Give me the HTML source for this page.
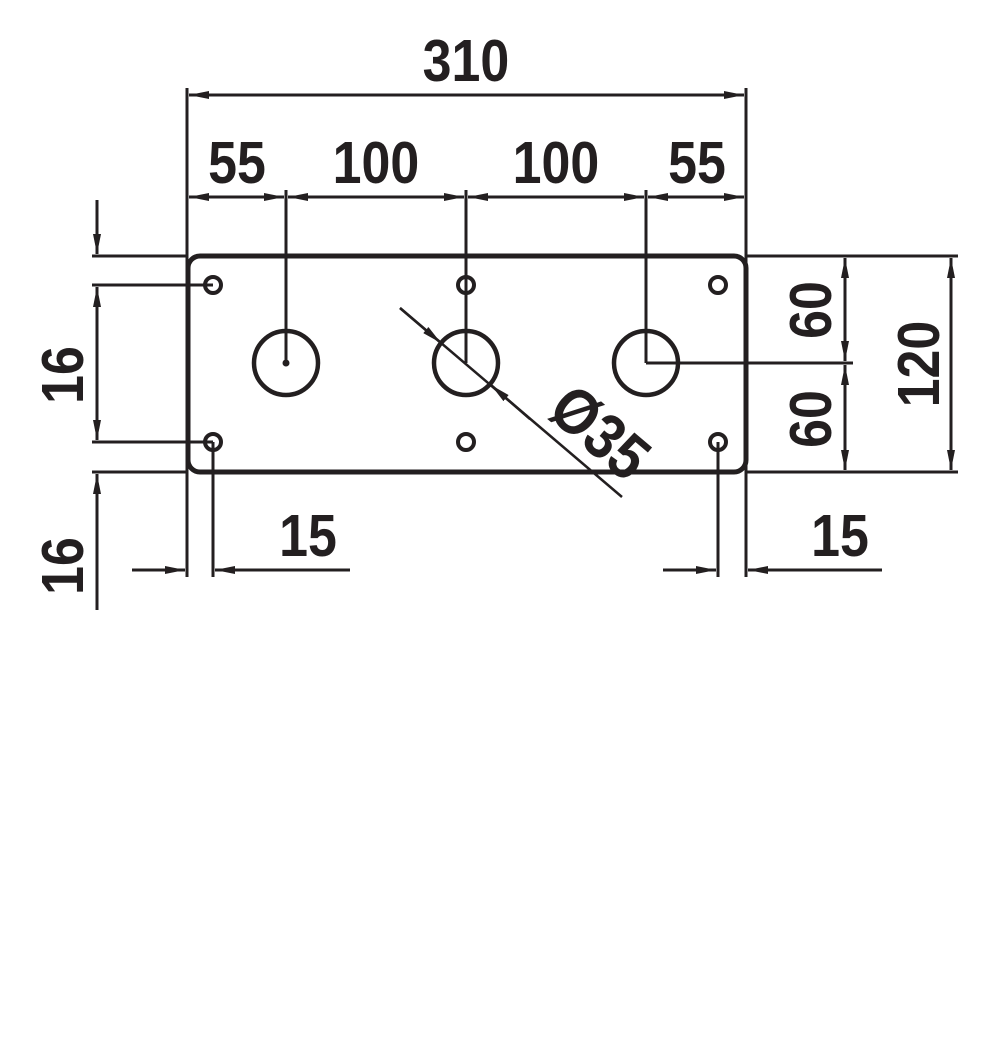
<!DOCTYPE html>
<html><head><style>
html,body{margin:0;padding:0;background:#fff;}
svg{display:block;}
text{font-family:"Liberation Sans",sans-serif;font-weight:bold;fill:#231f20;}
</style></head><body>
<svg width="1000" height="1054" viewBox="0 0 1000 1054" xmlns="http://www.w3.org/2000/svg">
<defs>
<marker id="a" viewBox="0 0 20 8" refX="20" refY="4" markerWidth="20" markerHeight="8" markerUnits="userSpaceOnUse" orient="auto">
<path d="M0,0 L20,4 L0,8 Z" fill="#231f20"/>
</marker>
</defs>
<g stroke="#231f20" fill="none" stroke-width="3">
<rect x="188" y="256" width="558" height="216" rx="12" stroke-width="5"/>
<circle cx="213" cy="285" r="8" stroke-width="4"/>
<circle cx="466" cy="285" r="8" stroke-width="4"/>
<circle cx="718" cy="285" r="8" stroke-width="4"/>
<circle cx="213" cy="442" r="8" stroke-width="4"/>
<circle cx="466" cy="442" r="8" stroke-width="4"/>
<circle cx="718" cy="442" r="8" stroke-width="4"/>
<circle cx="286" cy="363" r="32" stroke-width="4.5"/>
<circle cx="466" cy="363" r="32" stroke-width="4.5"/>
<circle cx="646" cy="363" r="32" stroke-width="4.5"/>
<circle cx="286" cy="363" r="2" fill="#231f20"/>
<line x1="187" y1="88" x2="187" y2="577"/>
<line x1="746" y1="88" x2="746" y2="577"/>
<line x1="286" y1="190" x2="286" y2="363"/>
<line x1="466" y1="190" x2="466" y2="363"/>
<line x1="646" y1="190" x2="646" y2="363"/>
<line x1="646" y1="363" x2="853" y2="363"/>
<line x1="466" y1="95" x2="189" y2="95" marker-end="url(#a)"/>
<line x1="466" y1="95" x2="744" y2="95" marker-end="url(#a)"/>
<line x1="236" y1="197" x2="189" y2="197" marker-end="url(#a)"/>
<line x1="236" y1="197" x2="284" y2="197" marker-end="url(#a)"/>
<line x1="376" y1="197" x2="288" y2="197" marker-end="url(#a)"/>
<line x1="376" y1="197" x2="464" y2="197" marker-end="url(#a)"/>
<line x1="556" y1="197" x2="468" y2="197" marker-end="url(#a)"/>
<line x1="556" y1="197" x2="644" y2="197" marker-end="url(#a)"/>
<line x1="696" y1="197" x2="648" y2="197" marker-end="url(#a)"/>
<line x1="696" y1="197" x2="744" y2="197" marker-end="url(#a)"/>
<line x1="746" y1="256" x2="958" y2="256"/>
<line x1="746" y1="472" x2="958" y2="472"/>
<line x1="845" y1="310" x2="845" y2="258" marker-end="url(#a)"/>
<line x1="845" y1="310" x2="845" y2="361" marker-end="url(#a)"/>
<line x1="845" y1="418" x2="845" y2="365" marker-end="url(#a)"/>
<line x1="845" y1="418" x2="845" y2="470" marker-end="url(#a)"/>
<line x1="951" y1="363" x2="951" y2="258" marker-end="url(#a)"/>
<line x1="951" y1="363" x2="951" y2="470" marker-end="url(#a)"/>
<line x1="92" y1="256" x2="187" y2="256"/>
<line x1="92" y1="285" x2="213" y2="285"/>
<line x1="92" y1="442" x2="213" y2="442"/>
<line x1="92" y1="472" x2="187" y2="472"/>
<line x1="97" y1="200" x2="97" y2="254" marker-end="url(#a)"/>
<line x1="97" y1="363" x2="97" y2="287" marker-end="url(#a)"/>
<line x1="97" y1="363" x2="97" y2="440" marker-end="url(#a)"/>
<line x1="97" y1="610" x2="97" y2="474" marker-end="url(#a)"/>
<line x1="213" y1="442" x2="213" y2="577"/>
<line x1="718" y1="442" x2="718" y2="577"/>
<line x1="132" y1="570" x2="185" y2="570" marker-end="url(#a)"/>
<line x1="350" y1="570" x2="215" y2="570" marker-end="url(#a)"/>
<line x1="663" y1="570" x2="716" y2="570" marker-end="url(#a)"/>
<line x1="882" y1="570" x2="748" y2="570" marker-end="url(#a)"/>
<line x1="400" y1="308" x2="622" y2="497" stroke-width="2.5"/>
<line x1="400" y1="308" x2="441" y2="343" stroke-width="2.5" marker-end="url(#a)"/>
<line x1="530" y1="419" x2="491" y2="385" stroke-width="2.5" marker-end="url(#a)"/>
</g>
<g font-size="59">
<text x="466" y="81" text-anchor="middle" transform="translate(466 0) scale(0.88 1) translate(-466 0)">310</text>
<text x="237" y="183" text-anchor="middle" transform="translate(237 0) scale(0.88 1) translate(-237 0)">55</text>
<text x="376" y="183" text-anchor="middle" transform="translate(376 0) scale(0.88 1) translate(-376 0)">100</text>
<text x="556" y="183" text-anchor="middle" transform="translate(556 0) scale(0.88 1) translate(-556 0)">100</text>
<text x="697" y="183" text-anchor="middle" transform="translate(697 0) scale(0.88 1) translate(-697 0)">55</text>
<text x="308" y="556" text-anchor="middle" transform="translate(308 0) scale(0.88 1) translate(-308 0)">15</text>
<text x="840" y="556" text-anchor="middle" transform="translate(840 0) scale(0.88 1) translate(-840 0)">15</text>
<text text-anchor="middle" transform="translate(83 375) rotate(-90) scale(0.88 1)">16</text>
<text text-anchor="middle" transform="translate(83 566) rotate(-90) scale(0.88 1)">16</text>
<text text-anchor="middle" transform="translate(831 310) rotate(-90) scale(0.88 1)">60</text>
<text text-anchor="middle" transform="translate(831 419) rotate(-90) scale(0.88 1)">60</text>
<text text-anchor="middle" transform="translate(939 364) rotate(-90) scale(0.88 1)">120</text>
<text text-anchor="middle" font-size="64" transform="translate(586 449) rotate(40.4) scale(0.88 1)">Ø35</text>
</g>
</svg>
</body></html>
